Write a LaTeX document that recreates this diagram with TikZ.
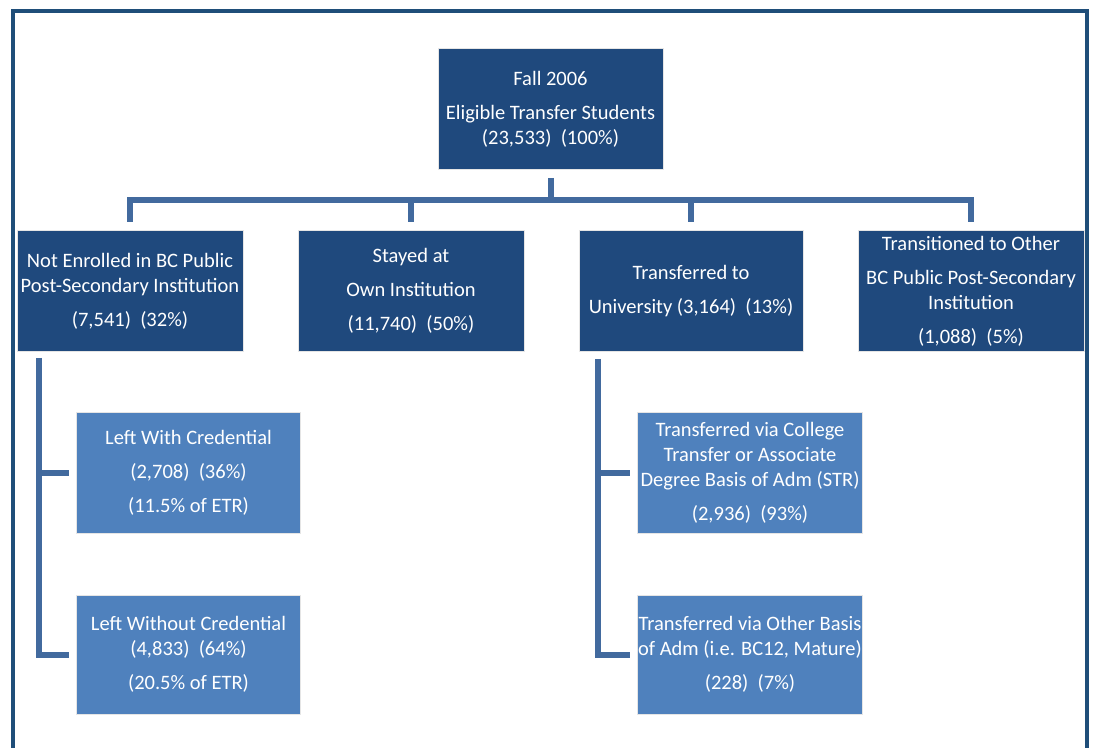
\documentclass[tikz,border=0pt]{standalone}
\usepackage{fontspec}
\setmainfont{Carlito}
\usetikzlibrary{calc}
\definecolor{darkbox}{RGB}{31,73,125}
\definecolor{lightbox}{RGB}{79,129,189}
\definecolor{linkblue}{RGB}{66,106,158}
\definecolor{framebl}{RGB}{31,78,121}
\newcommand{\gap}{\\[9pt]}

\begin{document}
\begin{tikzpicture}[x=1pt, y=-1pt,
    darkbox/.style={fill=darkbox, draw=white!80!gray, line width=0.6pt, text=white,
        align=center, inner sep=0pt, minimum width=226pt, minimum height=121pt,
        font=\fontsize{20.5}{25}\selectfont},
    lightbox/.style={darkbox, fill=lightbox, minimum width=224pt},
    link/.style={linkblue, line width=6pt}]
    \useasboundingbox (0,0) rectangle (1094,747);
    \draw[framebl, line width=4.5pt] (13,760) -- (13,11) -- (1087,11) -- (1087,760);

    \node[darkbox, minimum width=225pt] (fall) at (550.5,109)
        {Fall 2006\gap Eligible Transfer Students\\(23,533)\ \ (100\%)};

    \node[darkbox] (notenr) at (130,291)
        {Not Enrolled in BC Public\\Post-Secondary Institution\gap (7,541)\ \ (32\%)};
    \node[darkbox] (stayed) at (411,291)
        {Stayed at\gap Own Institution\gap (11,740)\ \ (50\%)};
    \node[darkbox, minimum width=224pt] (univ) at (691,291)
        {Transferred to\gap University (3,164)\ \ (13\%)};
    \node[darkbox] (other) at (971,291)
        {Transitioned to Other\gap BC Public Post-Secondary\\Institution\gap (1,088)\ \ (5\%)};

    \node[lightbox] (withcr) at (188.5,472.5)
        {Left With Credential\gap (2,708)\ \ (36\%)\gap (11.5\% of ETR)};
    \node[lightbox, minimum height=119pt] (withoutcr) at (188.5,654.5)
        {Left Without Credential\\(4,833)\ \ (64\%)\gap (20.5\% of ETR)};
    \node[lightbox, minimum width=225pt] (viastr) at (750,472.5)
        {Transferred via College\\Transfer or Associate\\Degree Basis of Adm (STR)\gap (2,936)\ \ (93\%)};
    \node[lightbox, minimum width=225pt, minimum height=119pt] (viaother) at (750,654.5)
        {Transferred via Other Basis\\of Adm (i.e. BC12, Mature)\gap (228)\ \ (7\%)};

    % tree below the top box
    \coordinate (bar) at (0,200);
    \draw[link] ([yshift=-8pt]fall.south) -- (fall.south |- bar);
    \draw[link, line cap=rect] (notenr.north |- bar) -- (other.north |- bar);
    \foreach \n in {notenr, stayed, univ, other}
        \draw[link] (\n.north |- bar) -- ([yshift=8pt]\n.north);

    % left branch
    \coordinate (ltrunk) at ($(notenr.south west)+(22.5,6)$);
    \draw[link] (ltrunk) |- ([xshift=-7pt]withoutcr.west);
    \draw[link] (ltrunk |- withcr.west) -- ([xshift=-7pt]withcr.west);

    % right branch
    \coordinate (rtrunk) at ($(univ.south west)+(19.5,7)$);
    \draw[link] (rtrunk) |- ([xshift=-7pt]viaother.west);
    \draw[link] (rtrunk |- viastr.west) -- ([xshift=-7pt]viastr.west);
\end{tikzpicture}
\end{document}
